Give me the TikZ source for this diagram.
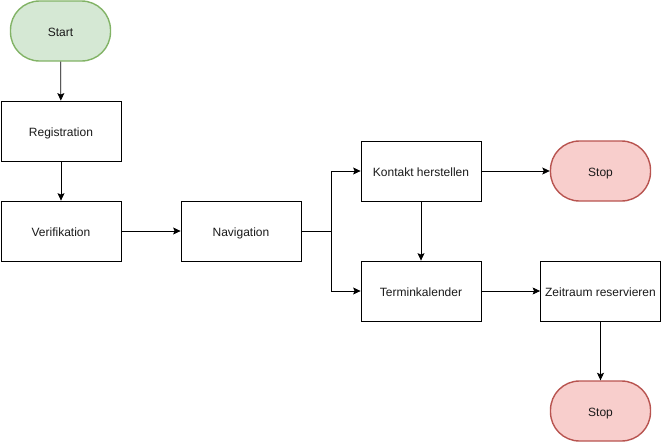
\documentclass[tikz,border=0pt]{standalone}
\usepackage{fontspec}
\setmainfont{Liberation Sans}
\usetikzlibrary{arrows.meta}
\definecolor{gfill}{HTML}{D5E8D4}
\definecolor{gline}{HTML}{82B366}
\definecolor{rfill}{HTML}{F8CECC}
\definecolor{rline}{HTML}{B85450}
\definecolor{txt}{HTML}{1A1A1A}
\begin{document}
\begin{tikzpicture}[x=1pt,y=-1pt,
  every node/.style={font=\fontsize{12}{14}\selectfont, text=txt, text height=11pt, text depth=1pt},
  box/.style={draw=black, line width=0.8pt, fill=white, minimum width=120pt, minimum height=60pt, inner sep=0pt},
  term/.style={rectangle, rounded corners=29pt, line width=1.4pt, minimum width=100pt, minimum height=60pt, inner sep=0pt},
  startst/.style={term, draw=gline, fill=gfill},
  stopst/.style={term, draw=rline, fill=rfill},
  conn/.style={draw=black, line width=0.8pt, -{Stealth[length=7.5pt,width=7pt,inset=1.5pt]}}
]
\useasboundingbox (0,0) rectangle (661,442);
\node[startst] (start) at (60.5,31) {Start};
\node[box] (reg) at (61,131) {Registration};
\node[box] (ver) at (61,231) {Verifikation};
\node[box] (nav) at (241,231) {Navigation};
\node[box] (kon) at (421,171) {Kontakt herstellen};
\node[stopst] (stop1) at (600.5,171) {Stop};
\node[box] (ter) at (421,291) {Terminkalender};
\node[box] (zei) at (600.5,291) {Zeitraum reservieren};
\node[stopst] (stop2) at (600.5,411) {Stop};
\coordinate (split) at (331,231);
\draw[conn] (start) -- (reg);
\draw[conn] (reg) -- (ver);
\draw[conn] (ver) -- (nav);
\draw[conn] (nav.east) -- (split) |- (kon.west);
\draw[conn] (split) |- (ter.west);
\draw[conn] (kon) -- (ter);
\draw[conn] (kon) -- (stop1);
\draw[conn] (ter) -- (zei);
\draw[conn] (zei) -- (stop2);
\end{tikzpicture}
\end{document}
